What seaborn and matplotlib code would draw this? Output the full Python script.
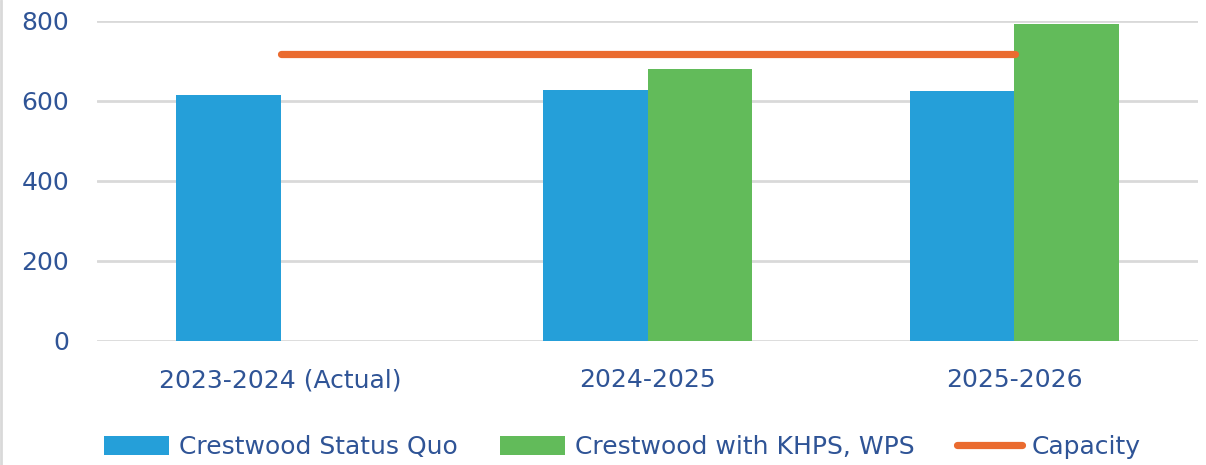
import numpy as np
import pandas as pd
import matplotlib
matplotlib.use("Agg")
import matplotlib.pyplot as plt
from matplotlib.patches import Patch
from matplotlib.lines import Line2D
import seaborn as sns

years = ["2023-2024 (Actual)", "2024-2025", "2025-2026"]
status_quo = [614, 627, 623]
with_khps = [np.nan, 680, 791]
capacity = [716, 716, 716]
series_names = ["Crestwood Status Quo", "Crestwood with KHPS, WPS"]
yticks = [0, 200, 400, 600, 800]

BLUE = "#259FD9"
GREEN = "#62BB5A"
ORANGE = "#EA6B2F"
TXT = "#2F5496"
GRID = "#D9D9D9"

sns.set_theme(style="white")
plt.rcParams["font.family"] = ["DejaVu Sans"]

df = pd.DataFrame({
    "year": years * 2,
    "series": [series_names[0]] * 3 + [series_names[1]] * 3,
    "value": status_quo + with_khps,
})

fig = plt.figure(figsize=(12.06, 4.65), dpi=100)
ax = fig.add_axes([97 / 1206, (465 - 340.7) / 465, (1198 - 97) / 1206, (340.7 - 20.7) / 465])

sns.barplot(data=df, x="year", y="value", hue="series", order=years,
            hue_order=series_names, palette=[BLUE, GREEN], width=0.572,
            gap=0, saturation=1, errorbar=None, ax=ax, legend=False,
            linewidth=0, zorder=3)
sns.lineplot(x=np.arange(len(years)), y=capacity, color=ORANGE, linewidth=5.2,
             ax=ax, zorder=4, solid_capstyle="round")

ax.set_xlim(-0.5, 2.5)
ax.set_ylim(0, 800)
ax.set_yticks(yticks)
ax.set_yticklabels([str(v) for v in yticks])
ax.set_xticks(range(len(years)))
ax.set_xticklabels(years)
ax.set_xlabel("")
ax.set_ylabel("")
for s in ax.spines.values():
    s.set_visible(False)
ax.yaxis.grid(True, color=GRID, linewidth=2, zorder=0)
ax.set_axisbelow(True)
ax.tick_params(axis="both", length=0, labelsize=18, labelcolor=TXT)
ax.tick_params(axis="y", pad=20)
ax.tick_params(axis="x", pad=20)

handles = [
    Patch(facecolor=BLUE, edgecolor="none"),
    Patch(facecolor=GREEN, edgecolor="none"),
    Line2D([0], [0], color=ORANGE, linewidth=5.2, solid_capstyle="round"),
]
leg = fig.legend(handles, series_names + ["Capacity"], loc="center",
                 bbox_to_anchor=(0.516, 0.038), ncol=3, frameon=False,
                 fontsize=18, handlelength=2.6, handleheight=0.8,
                 handletextpad=0.4, columnspacing=1.7)
for t in leg.get_texts():
    t.set_color(TXT)

fig.add_artist(Line2D([0.001, 0.001], [0, 1], transform=fig.transFigure,
                      color="#D9D9D9", linewidth=2))

fig.savefig("out.png", dpi=100)
